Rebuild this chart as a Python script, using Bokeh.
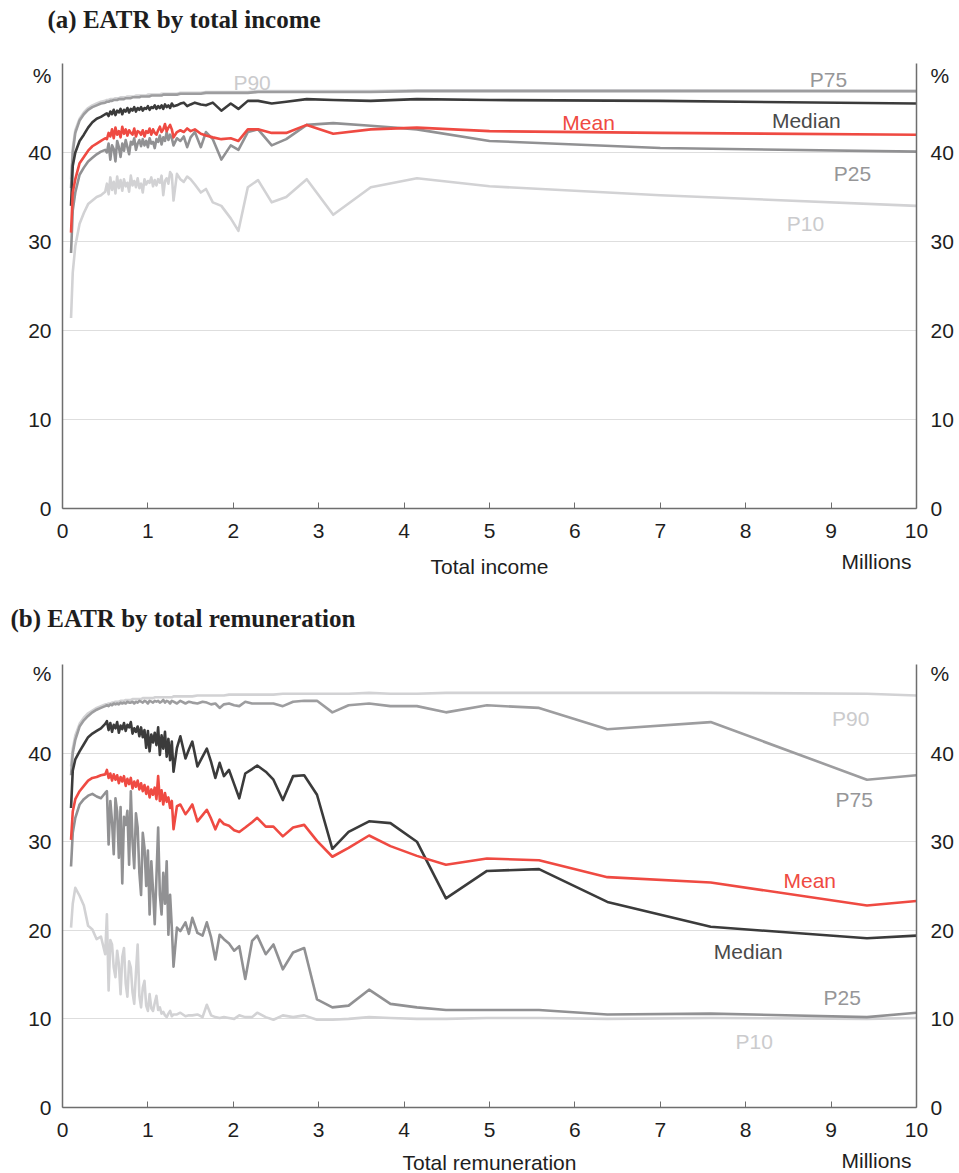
from bokeh.plotting import figure
from bokeh.models import Range1d, LinearAxis, FixedTicker
from bokeh.core.properties import value
from bokeh.layouts import column
from bokeh.embed import file_html
from bokeh.resources import INLINE

# ---------------- (a) EATR by total income (millions) ----------------
income_x = (
    [0.10, 0.12, 0.15, 0.20, 0.25, 0.30, 0.35, 0.40, 0.45, 0.50]
    + [0.52, 0.54, 0.56, 0.58, 0.60, 0.62, 0.64, 0.66, 0.68, 0.70]
    + [0.72, 0.74, 0.76, 0.78, 0.80, 0.82, 0.84, 0.86, 0.88, 0.90]
    + [0.92, 0.94, 0.96, 0.98, 1.00, 1.02, 1.04, 1.06, 1.08, 1.10]
    + [1.12, 1.14, 1.16, 1.18, 1.20, 1.22, 1.24, 1.26, 1.28, 1.30]
    + [1.34, 1.38, 1.42, 1.46, 1.50, 1.55, 1.62, 1.68, 1.76, 1.86]
    + [1.97, 2.06, 2.17, 2.29, 2.45, 2.62, 2.86, 3.17, 3.61, 4.15]
    + [5.00, 7.00, 10.00]
)
income_p90 = (
    [37.0, 40.5, 42.5, 43.8, 44.5, 45.0, 45.3, 45.5, 45.7, 45.8]
    + [45.9, 45.9, 46.0, 46.0, 46.0, 46.1, 46.1, 46.1, 46.2, 46.2]
    + [46.2, 46.2, 46.3, 46.3, 46.3, 46.3, 46.3, 46.4, 46.4, 46.4]
    + [46.4, 46.4, 46.4, 46.4, 46.5, 46.5, 46.5, 46.5, 46.5, 46.5]
    + [46.5, 46.5, 46.6, 46.6, 46.6, 46.6, 46.6, 46.6, 46.6, 46.6]
    + [46.6, 46.7, 46.7, 46.7, 46.7, 46.7, 46.7, 46.8, 46.8, 46.8]
    + [46.8, 46.8, 46.8, 46.9, 46.9, 46.9, 46.9, 46.9, 46.9, 47.0]
    + [47.0, 47.0, 46.9]
)
income_p75 = (
    [36.0, 40.0, 42.2, 43.6, 44.3, 44.8, 45.1, 45.3, 45.5, 45.6]
    + [45.7, 45.7, 45.8, 45.8, 45.9, 45.9, 45.9, 46.0, 46.0, 46.0]
    + [46.0, 46.1, 46.1, 46.1, 46.1, 46.2, 46.2, 46.2, 46.2, 46.2]
    + [46.3, 46.3, 46.3, 46.3, 46.3, 46.3, 46.4, 46.4, 46.4, 46.4]
    + [46.4, 46.4, 46.4, 46.5, 46.5, 46.5, 46.5, 46.5, 46.5, 46.5]
    + [46.5, 46.6, 46.6, 46.6, 46.6, 46.6, 46.6, 46.7, 46.7, 46.7]
    + [46.7, 46.7, 46.7, 46.8, 46.8, 46.8, 46.8, 46.8, 46.8, 46.9]
    + [46.9, 46.9, 46.9]
)
income_median = (
    [34.0, 38.5, 40.0, 41.3, 42.0, 42.8, 43.4, 43.8, 44.0, 44.3]
    + [44.4, 44.1, 44.6, 44.3, 44.8, 44.2, 44.7, 44.5, 44.9, 44.3]
    + [44.8, 44.6, 45.0, 44.5, 44.9, 44.7, 45.1, 44.6, 45.0, 44.8]
    + [45.1, 44.7, 45.0, 44.9, 45.2, 44.8, 45.1, 45.0, 45.3, 44.9]
    + [45.2, 45.0, 45.3, 44.9, 45.4, 45.1, 45.3, 45.0, 45.5, 45.2]
    + [45.3, 45.5, 45.6, 45.2, 45.4, 45.6, 45.4, 45.3, 45.6, 44.7]
    + [45.5, 44.9, 45.8, 45.8, 45.5, 45.7, 46.0, 45.9, 45.8, 46.0]
    + [45.9, 45.8, 45.5]
)
income_mean = (
    [31.0, 35.5, 37.0, 38.8, 39.5, 40.2, 40.7, 41.0, 41.3, 41.6]
    + [41.5, 42.2, 41.8, 42.6, 41.6, 42.8, 42.0, 42.4, 41.7, 42.9]
    + [42.1, 42.6, 41.9, 42.5, 42.2, 42.0, 42.7, 41.8, 42.4, 42.3]
    + [42.0, 42.5, 41.8, 42.4, 42.2, 42.7, 42.0, 42.6, 42.2, 42.0]
    + [42.5, 42.9, 42.3, 42.6, 43.2, 42.4, 42.8, 43.1, 42.6, 41.7]
    + [42.3, 42.5, 42.3, 42.7, 42.4, 42.6, 42.1, 41.9, 41.7, 41.5]
    + [41.6, 41.3, 42.6, 42.6, 42.2, 42.2, 43.1, 42.1, 42.6, 42.8]
    + [42.4, 42.2, 42.0]
)
income_p25 = (
    [28.7, 33.5, 35.5, 37.5, 38.3, 39.0, 39.4, 39.8, 40.1, 40.3]
    + [40.0, 41.0, 39.2, 40.8, 40.4, 39.0, 41.3, 40.6, 39.5, 41.0]
    + [40.2, 41.4, 40.6, 39.8, 41.2, 40.9, 41.6, 40.3, 41.0, 41.4]
    + [40.7, 41.5, 40.8, 41.3, 40.6, 41.6, 41.0, 41.2, 40.5, 41.5]
    + [41.2, 41.9, 40.9, 41.7, 41.3, 42.3, 41.4, 42.0, 41.6, 40.8]
    + [41.6, 41.3, 41.8, 40.6, 41.7, 42.3, 40.6, 42.3, 41.5, 39.2]
    + [40.8, 40.3, 42.3, 42.6, 40.8, 41.5, 43.1, 43.3, 43.0, 42.6]
    + [41.3, 40.5, 40.1]
)
income_p10 = (
    [21.4, 26.5, 29.5, 32.0, 33.2, 34.2, 34.6, 35.0, 35.2, 35.6]
    + [36.5, 35.3, 37.2, 35.8, 36.7, 35.4, 37.3, 36.0, 36.9, 35.7]
    + [37.0, 36.2, 36.6, 35.6, 37.4, 36.3, 36.8, 36.1, 37.1, 36.0]
    + [36.5, 35.5, 37.0, 36.4, 36.8, 36.6, 37.2, 36.2, 36.9, 36.3]
    + [37.0, 36.6, 37.4, 35.2, 36.8, 37.1, 36.5, 37.8, 37.5, 34.6]
    + [37.6, 37.0, 36.7, 37.3, 37.0, 36.4, 35.5, 35.9, 34.4, 34.0]
    + [32.6, 31.2, 36.1, 36.9, 34.4, 35.0, 37.0, 33.0, 36.1, 37.1]
    + [36.2, 35.2, 34.0]
)

# ---------------- (b) EATR by total remuneration (millions) ----------------
remun_x = (
    [0.10, 0.12, 0.15, 0.20, 0.25, 0.30, 0.35, 0.40, 0.45, 0.50]
    + [0.52, 0.54, 0.56, 0.58, 0.60, 0.62, 0.64, 0.66, 0.68, 0.70]
    + [0.72, 0.74, 0.76, 0.78, 0.80, 0.82, 0.84, 0.86, 0.88, 0.90]
    + [0.92, 0.94, 0.96, 0.98, 1.00, 1.02, 1.04, 1.06, 1.08, 1.10]
    + [1.12, 1.14, 1.16, 1.18, 1.20, 1.22, 1.24, 1.26, 1.28, 1.30]
    + [1.34, 1.38, 1.44, 1.48, 1.52, 1.58, 1.64, 1.69, 1.74, 1.79, 1.84, 1.89, 1.95, 2.01]
    + [2.07, 2.14, 2.22, 2.28, 2.38, 2.47, 2.58, 2.70, 2.83, 2.98]
    + [3.16, 3.35, 3.59, 3.84, 4.15, 4.49, 4.97, 5.58, 6.38, 7.59, 9.42, 10.00]
)
remun_p90 = (
    [38.5, 40.5, 42.0, 43.3, 44.0, 44.5, 44.8, 45.1, 45.3, 45.5]
    + [45.5, 45.6, 45.6, 45.7, 45.7, 45.8, 45.8, 45.8, 45.9, 45.9]
    + [45.9, 46.0, 46.0, 46.0, 46.0, 46.1, 46.1, 46.1, 46.1, 46.1]
    + [46.1, 46.2, 46.2, 46.2, 46.2, 46.2, 46.2, 46.2, 46.3, 46.3]
    + [46.3, 46.3, 46.3, 46.3, 46.3, 46.3, 46.3, 46.3, 46.3, 46.4]
    + [46.4, 46.4, 46.4, 46.4, 46.4, 46.5, 46.5, 46.5, 46.5, 46.5, 46.5, 46.5, 46.6, 46.6]
    + [46.6, 46.6, 46.6, 46.6, 46.6, 46.6, 46.7, 46.7, 46.7, 46.7]
    + [46.7, 46.7, 46.8, 46.7, 46.7, 46.8, 46.8, 46.8, 46.8, 46.8, 46.7, 46.5]
)
remun_p75 = (
    [37.5, 40.0, 41.5, 43.0, 43.7, 44.2, 44.6, 44.9, 45.1, 45.3]
    + [45.4, 45.3, 45.5, 45.4, 45.6, 45.5, 45.6, 45.5, 45.7, 45.6]
    + [45.7, 45.6, 45.8, 45.7, 45.7, 45.8, 45.6, 45.8, 45.7, 45.9]
    + [45.8, 45.7, 45.9, 45.8, 45.6, 45.9, 45.8, 45.7, 45.9, 45.8]
    + [45.9, 45.7, 45.8, 46.0, 45.7, 45.9, 45.8, 45.6, 45.9, 45.8]
    + [45.6, 45.9, 45.6, 45.8, 45.7, 45.6, 45.8, 45.7, 45.5, 45.6, 45.1, 45.5, 45.6, 45.4]
    + [45.3, 45.8, 45.6, 45.6, 45.6, 45.6, 45.3, 45.8, 45.9, 45.9]
    + [44.6, 45.4, 45.6, 45.3, 45.3, 44.6, 45.4, 45.1, 42.7, 43.5, 37.0, 37.5]
)
remun_median = (
    [33.8, 38.0, 39.3, 40.2, 41.0, 41.8, 42.2, 42.5, 42.8, 43.3]
    + [43.6, 42.6, 43.4, 42.4, 43.2, 42.8, 43.5, 42.3, 43.1, 42.7]
    + [43.4, 42.5, 43.2, 42.9, 43.5, 42.2, 42.8, 42.4, 43.0, 41.9]
    + [42.9, 41.8, 42.6, 40.6, 42.5, 40.2, 42.1, 41.2, 42.3, 40.9]
    + [42.9, 39.8, 42.0, 40.5, 42.4, 39.6, 41.6, 39.2, 41.3, 37.9]
    + [40.6, 41.9, 39.4, 40.4, 41.3, 38.5, 39.6, 40.5, 39.0, 37.2, 38.9, 37.4, 38.1, 36.5]
    + [34.9, 37.7, 38.2, 38.6, 37.9, 37.0, 34.7, 37.4, 37.5, 35.3]
    + [29.2, 31.1, 32.3, 32.1, 30.0, 23.6, 26.7, 26.9, 23.2, 20.4, 19.1, 19.4]
)
remun_mean = (
    [30.2, 33.4, 34.8, 35.7, 36.3, 36.9, 37.2, 37.3, 37.5, 37.6]
    + [38.1, 37.2, 37.7, 36.9, 37.6, 37.0, 37.5, 36.6, 37.3, 36.8]
    + [37.4, 36.3, 37.1, 36.5, 37.2, 36.0, 36.8, 36.2, 36.9, 35.9]
    + [36.6, 35.7, 36.4, 35.4, 36.2, 35.0, 35.9, 35.3, 36.1, 34.8]
    + [37.4, 34.6, 35.8, 34.2, 35.5, 34.5, 35.0, 33.8, 34.6, 31.4]
    + [34.0, 34.2, 33.1, 33.6, 34.2, 32.3, 33.0, 33.6, 32.6, 31.4, 32.5, 32.0, 31.8, 31.3]
    + [31.1, 31.6, 32.2, 32.7, 31.7, 31.7, 30.6, 31.6, 31.9, 30.1]
    + [28.3, 29.3, 30.7, 29.5, 28.4, 27.4, 28.1, 27.9, 26.0, 25.4, 22.8, 23.3]
)
remun_p25 = (
    [27.2, 31.0, 32.7, 34.2, 34.8, 35.2, 35.4, 35.1, 34.9, 35.5]
    + [35.7, 29.7, 34.6, 32.3, 28.6, 34.9, 33.4, 28.2, 33.9, 25.3]
    + [32.8, 31.9, 33.5, 27.4, 35.7, 30.0, 27.0, 33.2, 31.6, 26.5]
    + [24.0, 31.0, 29.3, 25.0, 29.0, 21.8, 27.8, 24.5, 20.7, 26.0]
    + [31.6, 24.0, 21.8, 26.5, 23.0, 27.8, 19.5, 24.0, 20.3, 15.9]
    + [20.3, 19.9, 20.9, 19.6, 21.4, 19.7, 19.4, 20.9, 19.2, 16.7, 19.5, 19.0, 18.5, 17.7]
    + [18.2, 14.5, 18.8, 19.4, 17.3, 18.4, 15.6, 17.5, 18.0, 12.2]
    + [11.3, 11.5, 13.3, 11.7, 11.3, 11.0, 11.0, 11.0, 10.5, 10.6, 10.2, 10.7]
)
remun_p10 = (
    [20.3, 23.0, 24.8, 23.9, 22.8, 20.5, 20.1, 19.0, 19.3, 17.3]
    + [21.8, 13.2, 18.9, 18.4, 15.8, 14.7, 17.7, 16.2, 12.8, 17.0]
    + [18.0, 14.0, 12.5, 16.5, 15.8, 13.0, 11.7, 15.2, 18.4, 12.6]
    + [11.3, 13.5, 14.3, 11.5, 10.9, 12.8, 11.2, 10.9, 11.8, 12.6]
    + [11.0, 11.3, 10.6, 10.8, 10.4, 10.2, 10.6, 10.9, 10.3, 10.5]
    + [10.5, 10.7, 10.3, 10.4, 10.4, 10.5, 10.2, 11.6, 10.4, 10.2, 10.1, 10.2, 10.1, 10.0]
    + [10.4, 10.2, 10.2, 10.7, 10.2, 9.9, 10.4, 10.2, 10.4, 9.9]
    + [9.9, 10.0, 10.2, 10.1, 10.0, 10.0, 10.1, 10.1, 10.0, 10.1, 10.0, 10.1]
)

y_ticks = [0, 10, 20, 30, 40]
grid_ticks = [10, 20, 30, 40, 50]
x_ticks = [0, 1, 2, 3, 4, 5, 6, 7, 8, 9, 10]

SANS = "Liberation Sans"
SERIF = "Liberation Serif"
AXIS_GREY = "#6e6e6e"
INK = "#1e1e1e"

STYLE = {
    "P10": "#d2d2d4",
    "P90": "#d2d2d4",
    "P25": "#919193",
    "P75": "#9d9d9f",
    "Median": "#3b3b3b",
    "Mean": "#ef4a42",
}
TAG_COLOR = {
    "P10": "#cbcbcd",
    "P90": "#cbcbcd",
    "P25": "#969698",
    "P75": "#969698",
    "Median": "#4a4a4a",
    "Mean": "#ef4a42",
}


def text_strip(height, items):
    """A plain strip (pixel coordinates, y downwards) that carries headings."""
    s = figure(width=959, height=height,
               x_range=Range1d(0, 959), y_range=Range1d(height, 0),
               x_axis_type=None, y_axis_type=None,
               output_backend="svg", toolbar_location=None, min_border=0)
    s.outline_line_color = None
    if "frame_align" in s.properties():
        s.frame_align = False
    for tx, ty, txt, font, size, style, align in items:
        s.text(x=[tx], y=[ty], text=[txt], text_font=value(font),
               text_font_size=value(size), text_font_style=style,
               text_align=align, text_baseline="middle", text_color=INK)
    return s


def build_panel(xs, series, tags, height, top, bottom, pct_y):
    p = figure(
        width=959, height=height,
        x_range=Range1d(0, 10), y_range=Range1d(0, 50),
        output_backend="svg", toolbar_location=None,
        min_border_left=62, min_border_right=43,
        min_border_top=top, min_border_bottom=bottom,
    )
    p.outline_line_color = None

    # horizontal grid only, including the top edge at 50
    p.xgrid.visible = False
    p.ygrid.ticker = FixedTicker(ticks=grid_ticks)
    p.ygrid.grid_line_color = "#dedede"
    p.ygrid.grid_line_width = 1

    xa = p.xaxis[0]
    xa.ticker = FixedTicker(ticks=x_ticks)
    xa.major_tick_in = 6
    xa.major_tick_out = 0
    xa.minor_tick_out = 0
    xa.major_tick_line_color = AXIS_GREY
    xa.minor_tick_line_color = None
    xa.axis_line_color = AXIS_GREY
    xa.axis_line_width = 1.5
    xa.major_label_standoff = 15
    xa.major_label_text_font = SANS
    xa.major_label_text_font_size = "21px"
    xa.major_label_text_color = INK

    # the unit sign sits on both value axes, just under the top edge
    ya = p.yaxis[0]
    right = LinearAxis()
    p.add_layout(right, "right")
    for ax, standoff in ((ya, 11), (right, 14)):
        ax.ticker = FixedTicker(ticks=y_ticks + [pct_y])
        ax.major_label_overrides = {pct_y: "%"}
        ax.major_tick_line_color = None
        ax.minor_tick_line_color = None
        ax.major_tick_in = 0
        ax.major_tick_out = 0
        ax.minor_tick_out = 0
        ax.axis_line_color = AXIS_GREY
        ax.axis_line_width = 1.5
        ax.major_label_standoff = standoff
        ax.major_label_text_font = SANS
        ax.major_label_text_font_size = "21px"
        ax.major_label_text_color = INK

    for name in ("P10", "P90", "P25", "P75", "Median", "Mean"):
        p.line(xs, series[name], line_color=STYLE[name], line_width=2.6,
               line_join="round")

    names = list(tags)
    p.text(x=[tags[n][0] for n in names], y=[tags[n][1] for n in names],
           text=names, text_color=[TAG_COLOR[n] for n in names],
           text_font=value(SANS), text_font_size=value("21px"),
           text_align="center", text_baseline="middle")
    return p


income_series = {
    "P90": income_p90, "P75": income_p75, "Median": income_median,
    "Mean": income_mean, "P25": income_p25, "P10": income_p10,
}
income_tags = {
    "P90": (2.22, 47.9), "P75": (8.97, 48.2), "Mean": (6.16, 43.4),
    "Median": (8.71, 43.6), "P25": (9.25, 37.6), "P10": (8.70, 32.0),
}
remun_series = {
    "P90": remun_p90, "P75": remun_p75, "Median": remun_median,
    "Mean": remun_mean, "P25": remun_p25, "P10": remun_p10,
}
remun_tags = {
    "P90": (9.23, 43.9), "P75": (9.27, 34.8), "Mean": (8.75, 25.6),
    "Median": (8.03, 17.6), "P25": (9.13, 12.4), "P10": (8.10, 7.5),
}

head_a = text_strip(44, [(47, 19, "(a) EATR by total income", SERIF, "25px", "bold", "left")])
fig_a = build_panel(income_x, income_series, income_tags,
                    height=506, top=19, bottom=42, pct_y=48.65)
foot_a = text_strip(40, [(489, 16, "Total income", SANS, "21px", "normal", "center"),
                         (876, 11, "Millions", SANS, "21px", "normal", "center")])

head_b = text_strip(50, [(10, 28, "(b) EATR by total remuneration", SERIF, "25px", "bold", "left")])
fig_b = build_panel(remun_x, remun_series, remun_tags,
                    height=509, top=24, bottom=42, pct_y=49.0)
foot_b = text_strip(24, [(489, 13, "Total remuneration", SANS, "21px", "normal", "center"),
                         (876, 11, "Millions", SANS, "21px", "normal", "center")])

layout = column(head_a, fig_a, foot_a, head_b, fig_b, foot_b, spacing=0)
open("out.html", "w").write(file_html(layout, INLINE))
